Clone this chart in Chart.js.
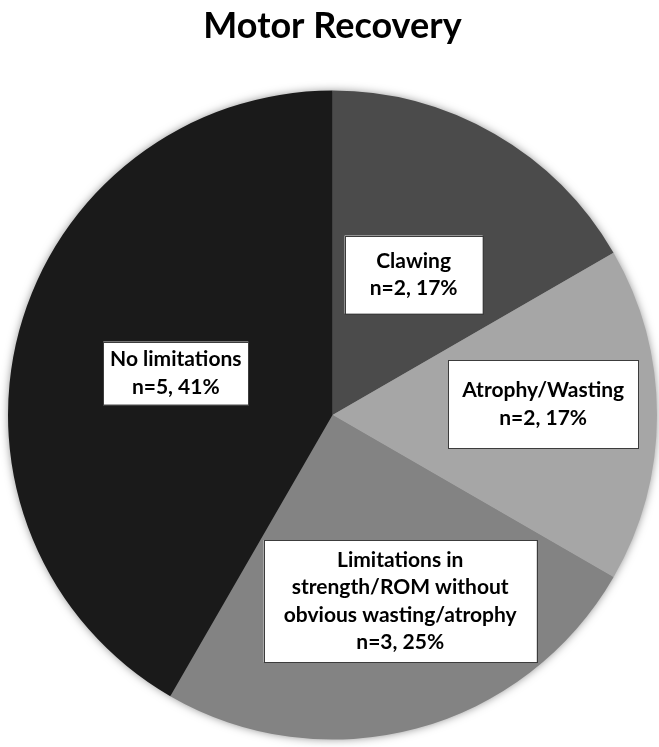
<!DOCTYPE html>
<html lang="en">
  <head>
    <meta charset="UTF-8" />
    <title>Motor Recovery</title>
    <style>
      html, body { margin: 0; padding: 0; background: #fff; }
      #wrap { width: 659px; height: 747px; }
    </style>
  </head>
  <body>
    <div id="wrap"><canvas id="pieChart" width="659" height="747"></canvas></div>
    <script src="https://cdn.jsdelivr.net/npm/chart.js"></script>
    <script>
      // data
      const categories = ["Clawing", "Atrophy/Wasting", "Limitations in strength/ROM without obvious wasting/atrophy", "No limitations"];
      const counts = [2, 2, 3, 5];
      const percents = [17, 17, 25, 41];
      const labelLines = [
        ["Clawing"],
        ["Atrophy/Wasting"],
        ["Limitations in", "strength/ROM without", "obvious wasting/atrophy"],
        ["No limitations"],
      ];
      const sliceColors = ["#4b4b4b", "#a6a6a6", "#838383", "#1a1a1a"];

      // box placement per slice: radius fraction, angle shift (deg), box w/h
      const boxStyle = [
        { r: 0.5, shift: 0, w: 138, h: 78 },
        { r: 0.65, shift: -3, w: 190, h: 88 },
        { r: 0.61, shift: -5, w: 273, h: 122 },
        { r: 0.5, shift: 0, w: 145, h: 63 },
      ];

      const pieShadow = {
        id: "pieShadow",
        beforeDatasetsDraw(chart) {
          const arc = chart.getDatasetMeta(0).data[0];
          if (!arc) return;
          const ctx = chart.ctx;
          ctx.save();
          ctx.shadowColor = "rgba(0,0,0,0.5)";
          ctx.shadowBlur = 10;
          ctx.fillStyle = "#888";
          ctx.beginPath();
          ctx.arc(arc.x, arc.y, arc.outerRadius - 1, 0, Math.PI * 2);
          ctx.fill();
          ctx.restore();
        },
      };

      const boxLabels = {
        id: "boxLabels",
        afterDatasetsDraw(chart) {
          const ctx = chart.ctx;
          const meta = chart.getDatasetMeta(0);
          meta.data.forEach((arc, i) => {
            const st = boxStyle[i];
            const mid = (arc.startAngle + arc.endAngle) / 2 + (st.shift * Math.PI) / 180;
            const cx = arc.x + Math.cos(mid) * arc.outerRadius * st.r;
            const cy = arc.y + Math.sin(mid) * arc.outerRadius * st.r;
            const lines = labelLines[i].concat(["n=" + counts[i] + ", " + percents[i] + "%"]);
            ctx.save();
            ctx.fillStyle = "#ffffff";
            ctx.fillRect(cx - st.w / 2, cy - st.h / 2, st.w, st.h);
            ctx.strokeStyle = "#3c3c3c";
            ctx.lineWidth = 1;
            ctx.strokeRect(Math.round(cx - st.w / 2) + 0.5, Math.round(cy - st.h / 2) + 0.5, st.w, st.h);
            ctx.fillStyle = "#000";
            ctx.font = "bold 21px Lato";
            ctx.textAlign = "center";
            ctx.textBaseline = "middle";
            const lh = 27.5;
            const y0 = cy - ((lines.length - 1) * lh) / 2;
            lines.forEach((t, k) => ctx.fillText(t, cx, y0 + k * lh));
            ctx.restore();
          });
        },
      };

      new Chart(document.getElementById("pieChart"), {
        type: "pie",
        data: {
          labels: categories,
          datasets: [
            {
              data: counts,
              backgroundColor: sliceColors,
              borderWidth: 0,
            },
          ],
        },
        options: {
          responsive: false,
          animation: false,
          layout: { padding: { left: 8, right: 2, top: 0, bottom: 7 } },
          plugins: {
            legend: { display: false },
            tooltip: { enabled: false },
            title: {
              display: true,
              text: "Motor Recovery",
              color: "#000",
              font: { family: "Lato", size: 36, weight: "bold" },
              padding: { top: 5, bottom: 42 },
            },
          },
        },
        plugins: [pieShadow, boxLabels],
      });
    </script>
  </body>
</html>
